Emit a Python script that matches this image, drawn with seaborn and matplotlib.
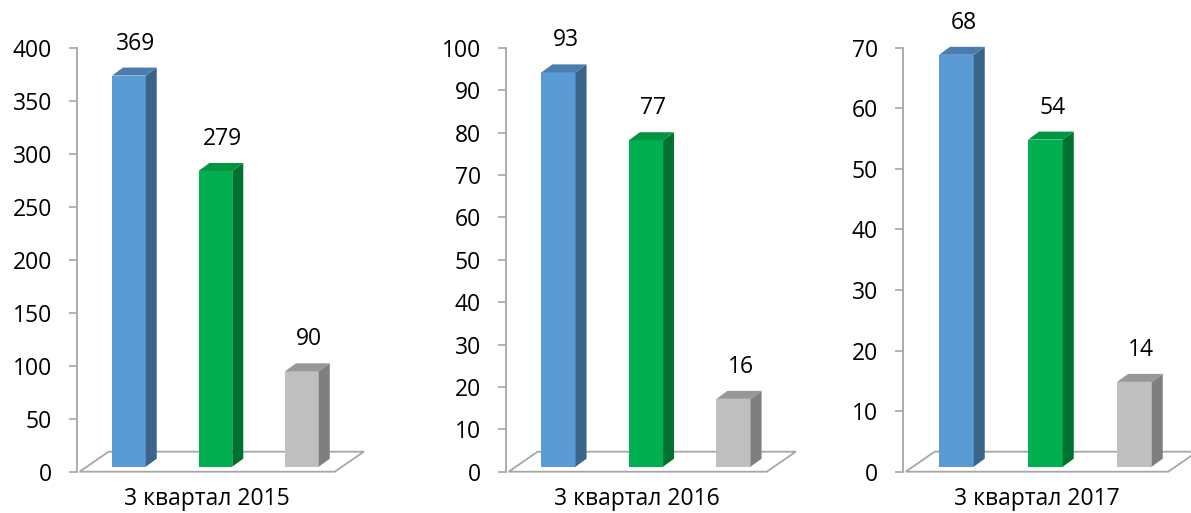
import numpy as np
import pandas as pd
import seaborn as sns
import matplotlib.pyplot as plt
from matplotlib.patches import Polygon
from matplotlib.transforms import ScaledTranslation, blended_transform_factory

sns.set_theme(style="white")
plt.rcParams['font.family'] = ['Open Sans', 'DejaVu Sans']

# data
series = ['ряд 1', 'ряд 2', 'ряд 3']
periods = ['3 квартал 2015', '3 квартал 2016', '3 квартал 2017']
values_2015 = [369, 279, 90]
values_2016 = [93, 77, 16]
values_2017 = [68, 54, 14]
y_max = [400, 100, 70]
y_step = [50, 10, 10]

front_colors = ['#5B9BD5', '#00B050', '#BFBFBF']
side_colors = ['#3B6489', '#00722F', '#7F7F7F']
top_colors = ['#4A7DAE', '#00953F', '#979797']
axis_gray = '#A6A6A6'

DPI = 100
W, H = 1191, 513
fig = plt.figure(figsize=(W / DPI, H / DPI), dpi=DPI)

x_lo, x_hi = -0.6, 2.75
y0_px, y1_px = 471.7, 47.7
FS = 16.5


def draw_panel(left_px, step_px, period, values, ymax, ystep):
    width_px = (x_hi - x_lo) * step_px
    ax = fig.add_axes([left_px / W, (H - y0_px) / H, width_px / W,
                       (y0_px - y1_px) / H])
    df = pd.DataFrame({'series': series, 'value': values})
    sns.barplot(data=df, x='series', y='value', hue='series',
                palette=front_colors, saturation=1, width=0.39,
                errorbar=None, legend=False, ax=ax, zorder=2)
    ax.set_xlim(x_lo, x_hi)
    ax.set_ylim(0, ymax)
    ax.set_yticks(np.arange(0, ymax + 1, ystep))
    ax.set_xticks([])
    ax.set_xlabel('')
    ax.set_ylabel('')

    # pixel sizes of the fake 3d depth, turned into data units
    px_y = (y0_px - y1_px) / ymax
    dx, dy = 11 / step_px, 8 / px_y
    lift = ax.transData + ScaledTranslation(0, 5 / DPI, fig.dpi_scale_trans)

    # floor
    fx0, fx1 = x_lo + 0.03, x_lo + 2.98
    fdx, fdy = 29 / step_px, 20 / px_y
    ax.add_patch(Polygon([(fx0, 0), (fx1, 0), (fx1 + fdx, fdy), (fx0 + fdx, fdy)],
                         closed=True, fc='white', ec=axis_gray, lw=1.3,
                         clip_on=False, zorder=1))

    for i, p in enumerate(ax.patches[:len(values)]):
        x0, w, h = p.get_x(), p.get_width(), p.get_height()
        p.set_transform(lift)
        p.set_edgecolor('none')
        ax.add_patch(Polygon([(x0 + w, 0), (x0 + w + dx, dy), (x0 + w + dx, h + dy), (x0 + w, h)],
                             closed=True, fc=side_colors[i], ec='none',
                             transform=lift, zorder=2, clip_on=False))
        ax.add_patch(Polygon([(x0, h), (x0 + dx, h + dy), (x0 + w + dx, h + dy), (x0 + w, h)],
                             closed=True, fc=top_colors[i], ec='none',
                             transform=lift, zorder=2, clip_on=False))
        ax.annotate(f'{values[i]}', (x0 + w / 2, h), xytext=(7, 37),
                    textcoords='offset pixels', ha='center', va='center',
                    fontsize=FS, color='black')

    ax.text(0.9, -0.078, period,
            transform=blended_transform_factory(ax.transData, ax.transAxes),
            ha='center', va='baseline', fontsize=FS, color='black')

    sns.despine(ax=ax, bottom=True)
    ax.spines['left'].set_color(axis_gray)
    ax.spines['left'].set_linewidth(1.3)
    ax.tick_params(axis='y', which='major', left=True, direction='out',
                   length=5.5, width=1.2, color=axis_gray, pad=12.5,
                   labelsize=FS, labelcolor='black')
    return ax


draw_panel(77, 86.5, periods[0], values_2015, y_max[0], y_step[0])
draw_panel(506, 87.5, periods[1], values_2016, y_max[1], y_step[1])
draw_panel(903, 89, periods[2], values_2017, y_max[2], y_step[2])

fig.savefig('out.png', dpi=DPI)
